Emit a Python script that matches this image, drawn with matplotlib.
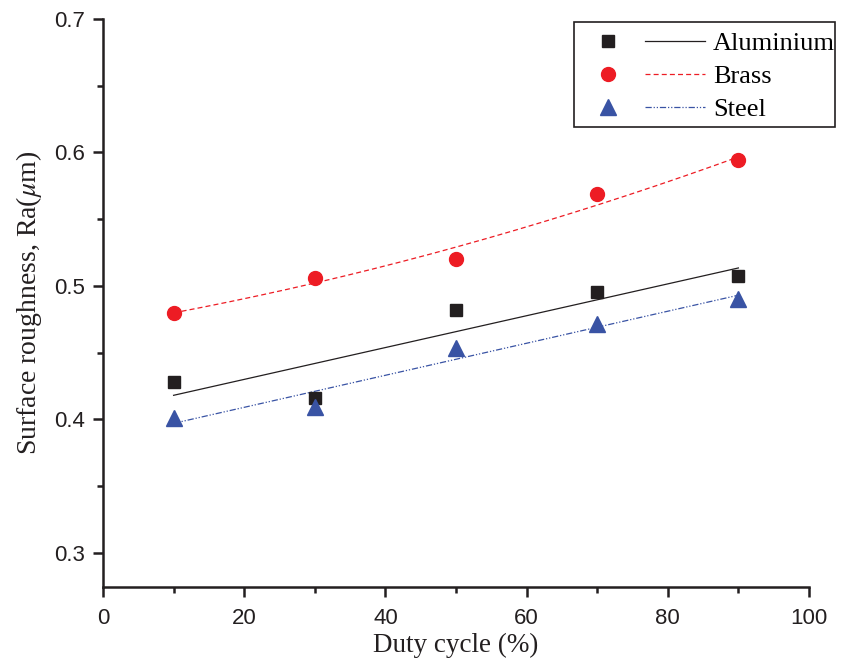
import numpy as np
import matplotlib
matplotlib.use("Agg")
import matplotlib.pyplot as plt
from matplotlib.lines import Line2D
from matplotlib.legend_handler import HandlerTuple
from matplotlib.patches import Rectangle
from matplotlib.ticker import MultipleLocator

# Measured surface roughness vs duty cycle
duty_cycle = [10, 30, 50, 70, 90]
aluminium = [0.428, 0.416, 0.482, 0.4955, 0.5075]
brass = [0.4795, 0.506, 0.520, 0.569, 0.594]
steel = [0.401, 0.4095, 0.4535, 0.4715, 0.490]

x_ticks = [0, 20, 40, 60, 80, 100]
y_ticks = [0.3, 0.4, 0.5, 0.6, 0.7]

plt.rcParams["mathtext.fontset"] = "stix"

W, H = 842, 664
fig = plt.figure(figsize=(W / 100, H / 100), dpi=100)
ax = fig.add_axes([103 / W, 1 - 587 / H, (809 - 103) / W, (587 - 19) / H])

xs = np.array(duty_cycle, dtype=float)
xf = np.linspace(10, 90, 200)

ink = "#231f20"
c_al = "#231f20"
c_br = "#ed1c24"
c_st = "#3953a4"
ls_br = (0, (4, 2.5))
ls_st = (0, (5, 1.5, 1, 1.5, 1, 1.5))

# fitted trends: linear for aluminium and steel, quadratic for brass
p_al = np.polyfit(xs, aluminium, 1)
p_br = np.polyfit(xs, brass, 2)
p_st = np.polyfit(xs, steel, 1)

ax.plot(xf, np.polyval(p_al, xf), color=c_al, lw=0.9)
ax.plot(xf, np.polyval(p_br, xf), color=c_br, lw=0.9, ls=ls_br)
ax.plot(xf, np.polyval(p_st, xf), color=c_st, lw=0.9, ls=ls_st)

ax.plot(xs, aluminium, ls="none", marker="s", ms=8.5, color=c_al, mec=c_al)
ax.plot(xs, brass, ls="none", marker="o", ms=10, color=c_br, mec=c_br)
ax.plot(xs, steel, ls="none", marker="^", ms=11, color=c_st, mec=c_st)

ax.set_xlim(0, 100)
ax.set_ylim(0.2745, 0.7)
ax.set_xticks(x_ticks)
ax.set_yticks(y_ticks)
ax.xaxis.set_minor_locator(MultipleLocator(10))
ax.yaxis.set_minor_locator(MultipleLocator(0.05))
ax.set_xticklabels([str(v) for v in x_ticks])
ax.set_yticklabels([f"{v:.1f}" for v in y_ticks])

for s in ("top", "right"):
    ax.spines[s].set_visible(False)
for s in ("left", "bottom"):
    ax.spines[s].set_linewidth(1.8)
    ax.spines[s].set_color(ink)

ax.tick_params(which="major", direction="out", length=7, width=1.8, color=ink,
               labelsize=16, pad=6)
ax.tick_params(which="minor", direction="out", length=4, width=1.8, color=ink)
ax.tick_params(axis="x", which="major", pad=8)
for lab in ax.get_xticklabels() + ax.get_yticklabels():
    lab.set_fontfamily("Liberation Sans")
    lab.set_color(ink)

ax.set_xlabel("Duty cycle (%)", fontfamily="Liberation Serif", fontsize=19.5, color=ink, labelpad=3)
ax.set_ylabel(r"Surface roughness, Ra($\mu$m)", fontfamily="Liberation Serif", fontsize=20,
              color=ink, labelpad=7)

# legend: marker and line side by side, boxed
h_al = (Line2D([], [], ls="none", marker="s", ms=8.5, color=c_al),
        Line2D([], [], color=c_al, lw=0.9))
h_br = (Line2D([], [], ls="none", marker="o", ms=10, color=c_br),
        Line2D([], [], color=c_br, lw=0.9, ls=ls_br))
h_st = (Line2D([], [], ls="none", marker="^", ms=11, color=c_st),
        Line2D([], [], color=c_st, lw=0.9, ls=ls_st))
leg = fig.legend([h_al, h_br, h_st], ["Aluminium", "Brass", "Steel"],
                 handler_map={tuple: HandlerTuple(ndivide=None, pad=0.265)},
                 loc="upper left", bbox_to_anchor=(574 / W, 1 - 28 / H),
                 prop={"family": "Liberation Serif", "size": 19},
                 handlelength=4.81, handletextpad=0.3, labelspacing=0.35,
                 borderpad=0.15, borderaxespad=0, frameon=False)
fig.add_artist(Rectangle((574 / W, 1 - 127 / H), (835 - 574) / W, (127 - 22) / H,
                         transform=fig.transFigure, fill=False, edgecolor=ink, lw=1.2))

fig.savefig("out.png", dpi=100)
